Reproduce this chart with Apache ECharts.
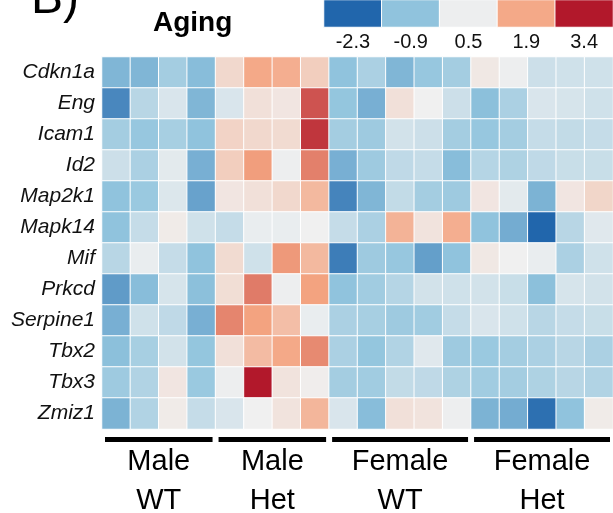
<!DOCTYPE html>
<html><head><meta charset="utf-8">
<script src="https://cdn.jsdelivr.net/npm/echarts@6/dist/echarts.min.js"></script>
<style>html,body{margin:0;padding:0;background:#fff}#c{width:613px;height:513px}</style>
</head><body><div id="c"></div>
<script>
const genes = ['Cdkn1a','Eng','Icam1','Id2','Map2k1','Mapk14','Mif','Prkcd','Serpine1','Tbx2','Tbx3','Zmiz1'];
const columns = ['MWT1','MWT2','MWT3','MWT4','MHet1','MHet2','MHet3','MHet4','FWT1','FWT2','FWT3','FWT4','FWT5','FHet1','FHet2','FHet3','FHet4','FHet5'];
const groupLine1 = ['Male','Male','Female','Female'];
const groupLine2 = ['WT','Het','WT','Het'];
const groupSizes = [4,4,5,5];
const legendTicks = [-2.3,-0.9,0.5,1.9,3.4];

const cdkn1a   = [-1.1,-1.1,-0.6,-1.0, 1.0,1.9,1.8,1.2, -0.9,-0.5,-1.1,-0.8,-0.6, 0.7,0.5,0.0,0.05,0.05];
const eng      = [-1.8,-0.3,0.2,-1.1, 0.2,0.85,0.75,2.8, -0.85,-1.2,0.85,0.55,0.0, -0.95,-0.5,0.2,0.15,0.05];
const icam1    = [-0.6,-0.8,-0.55,-0.9, 1.1,1.0,0.95,3.1, -0.6,-0.7,0.1,0.0,-0.6, -0.8,-0.6,-0.1,-0.15,-0.1];
const id2      = [0.0,-0.5,0.35,-1.2, 1.2,2.05,0.5,2.35, -1.2,-0.7,-0.2,-0.1,-1.0, -0.35,-0.45,-0.2,-0.05,-0.05];
const map2k1   = [-0.9,-0.75,0.25,-1.4, 0.75,0.85,1.0,1.6, -1.85,-1.1,-0.15,-0.6,-0.7, 0.75,0.35,-1.15,0.75,1.05];
const mapk14   = [-0.9,-0.1,0.65,0.05, -0.1,0.45,0.45,0.55, -0.1,-0.5,1.7,0.8,1.8, -0.9,-1.25,-2.3,-0.3,0.3];
const mif      = [-0.3,0.45,-0.1,-0.9, 0.95,0.05,2.1,1.6, -1.95,-0.7,-0.8,-1.45,-0.9, 0.7,0.55,0.45,-0.5,0.05];
const prkcd    = [-1.5,-1.0,0.15,-0.95, 0.9,2.4,0.5,2.0, -0.9,-0.65,-0.35,0.1,0.05, 0.1,-0.05,-0.95,0.15,0.1];
const serpine1 = [-1.2,0.05,-0.2,-1.2, 2.3,2.0,1.5,0.45, -0.5,-0.55,-0.7,-0.65,-0.1, 0.2,0.05,-0.3,-0.1,-0.05];
const tbx2     = [-0.95,-0.55,0.1,-0.85, 0.85,1.55,1.9,2.25, -0.5,-0.85,-0.4,0.3,-0.7, -0.75,-0.6,-0.5,-0.3,-0.5];
const tbx3     = [-0.7,-0.4,0.75,-0.75, 0.5,3.4,0.8,0.6, -0.6,-0.65,-0.15,-0.2,-0.45, -0.65,-0.6,-0.45,-0.3,-0.4];
const zmiz1    = [-1.15,-0.4,0.65,-0.1, 0.2,0.55,0.8,1.65, 0.2,-1.0,0.85,0.8,0.5, -1.15,-1.25,-2.15,-0.9,0.65];

const rows = [cdkn1a,eng,icam1,id2,map2k1,mapk14,mif,prkcd,serpine1,tbx2,tbx3,zmiz1];
const cells = [];
rows.forEach((r, y) => r.forEach((v, x) => cells.push([x, y, v])));
const legendCells = legendTicks.map((v, i) => [i, 0, v]);

const FONT = 'Liberation Sans, Arial, Helvetica, sans-serif';
const chart = echarts.init(document.getElementById('c'), null, {renderer: 'canvas'});
chart.setOption({
  animation: false,
  backgroundColor: '#fff',
  grid: [
    {left: 102, top: 57, width: 516.6, height: 372},
    {left: 324, top: 0, width: 289, height: 27}
  ],
  xAxis: [
    {type: 'category', data: columns, gridIndex: 0, show: false},
    {type: 'category', data: legendTicks.map(String), gridIndex: 1,
     axisLine: {show: false}, axisTick: {show: false},
     axisLabel: {fontFamily: FONT, fontSize: 20, color: '#111', margin: 5, lineHeight: 21}}
  ],
  yAxis: [
    {type: 'category', data: genes, inverse: true, gridIndex: 0,
     axisLine: {show: false}, axisTick: {show: false},
     axisLabel: {fontFamily: FONT, fontSize: 21, fontStyle: 'italic', color: '#111', margin: 7}},
    {type: 'category', data: ['k'], gridIndex: 1, show: false}
  ],
  visualMap: {
    type: 'continuous', show: false, min: -2.3, max: 3.4, seriesIndex: [0, 1],
    inRange: {color: ['#2166ac', '#92c5de', '#f0f0f0', '#f4a582', '#b2182b']}
  },
  series: [
    {type: 'heatmap', xAxisIndex: 0, yAxisIndex: 0, data: cells,
     itemStyle: {borderColor: '#fff', borderWidth: 1}, emphasis: {disabled: true}},
    {type: 'heatmap', xAxisIndex: 1, yAxisIndex: 1, data: legendCells,
     itemStyle: {borderColor: '#fff', borderWidth: 1}, emphasis: {disabled: true}}
  ]
});

// group annotations derived from the axis
const c0 = chart.convertToPixel({xAxisIndex: 0}, 0);
const c1 = chart.convertToPixel({xAxisIndex: 0}, 1);
const pitch = c1 - c0;
const graphics = [
  {type: 'text', x: 31, y: 0, style: {text: 'B)', font: '48px ' + FONT, fill: '#000', verticalAlign: 'middle'}},
  {type: 'text', x: 153, y: 23, style: {text: 'Aging', font: 'bold 28px ' + FONT, fill: '#000', verticalAlign: 'middle'}}
];
let start = 0;
groupSizes.forEach((n, g) => {
  const x0 = chart.convertToPixel({xAxisIndex: 0}, start) - pitch / 2 + 3;
  const x1 = chart.convertToPixel({xAxisIndex: 0}, start + n - 1) + pitch / 2 - 3;
  const cx = (x0 + x1) / 2;
  graphics.push({type: 'rect', shape: {x: x0, y: 437, width: x1 - x0, height: 5}, style: {fill: '#000'}});
  graphics.push({type: 'text', x: cx, y: 462, style: {text: groupLine1[g], font: '29px ' + FONT, fill: '#000', align: 'center', verticalAlign: 'middle'}});
  graphics.push({type: 'text', x: cx, y: 500.5, style: {text: groupLine2[g], font: '29px ' + FONT, fill: '#000', align: 'center', verticalAlign: 'middle'}});
  start += n;
});
chart.setOption({graphic: graphics});
</script></body></html>
